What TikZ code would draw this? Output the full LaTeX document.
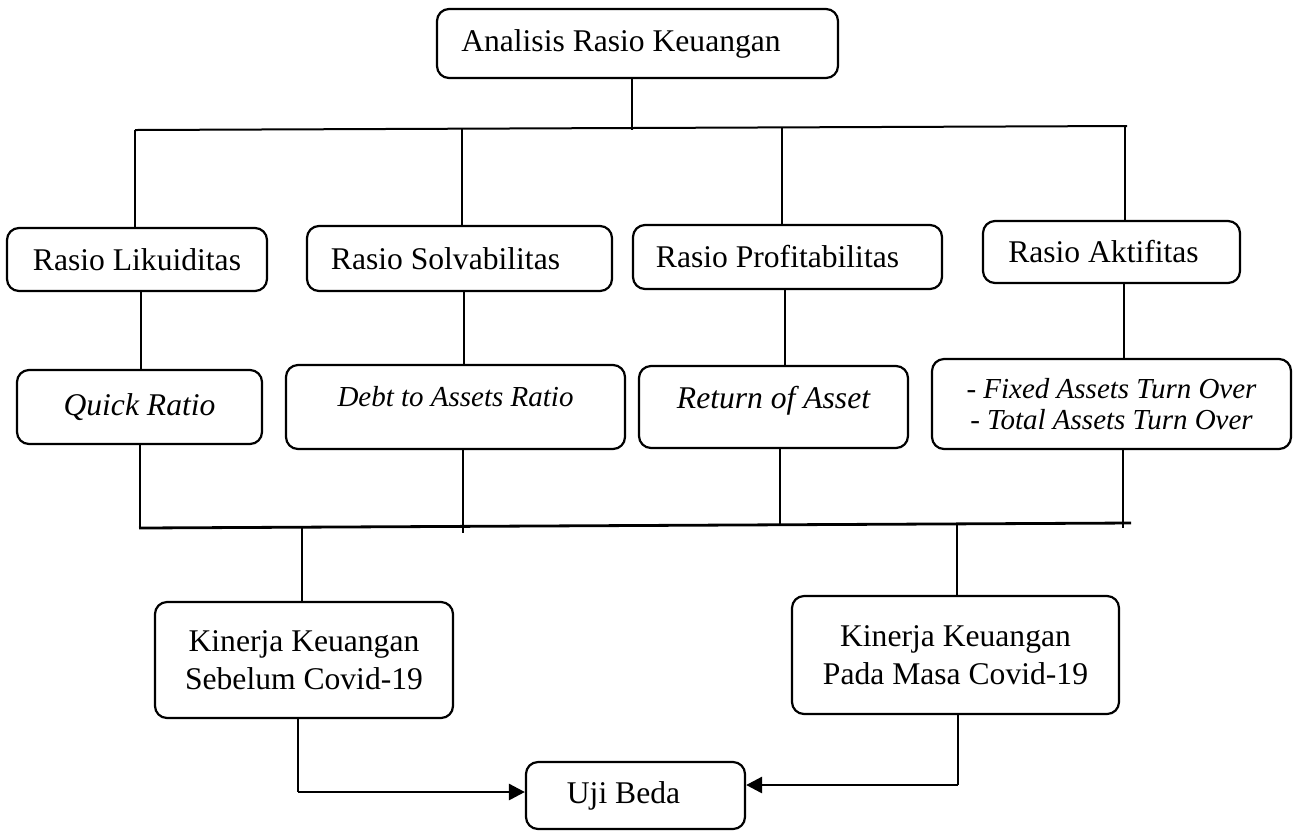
\documentclass[tikz,border=0pt]{standalone}
\usepackage{fontspec}
\setmainfont{Liberation Serif}
\usetikzlibrary{arrows.meta,calc}
\begin{document}
\begin{tikzpicture}[x=0.5pt,y=-0.5pt,
  box/.style={draw, line width=1.1pt, rounded corners=6pt, inner sep=0pt, align=center,
    font=\fontsize{15.8pt}{19pt}\selectfont},
  sbox/.style={box, font=\fontsize{14.5pt}{15.5pt}\selectfont\itshape},
  conn/.style={line width=0.75pt},
  topbus/.style={line width=1pt},
  bus/.style={line width=1.4pt},
  arr/.style={line width=1.4pt, -{Triangle[length=8pt,width=8pt]}}]
\useasboundingbox (0,0) rectangle (1293,832);

% boxes
\node[box, minimum width=200.5pt, minimum height=34.5pt] (top) at (637.5,43.5) {\hbox{Analisis Rasio Keuangan\kern16.5pt}};
\node[box, minimum width=130pt, minimum height=31.5pt] (lik) at (137,259.5) {Rasio Likuiditas};
\node[box, minimum width=152.5pt, minimum height=32.5pt] (solv) at (459.5,258.5) {\hbox{Rasio Solvabilitas\kern14pt}};
\node[box, minimum width=154.5pt, minimum height=32pt] (prof) at (787.5,257) {\hbox{Rasio Profitabilitas\kern10pt}};
\node[box, minimum width=128.5pt, minimum height=31pt] (akt) at (1111.5,252) {\hbox{Rasio Aktifitas\kern8pt}};

\node[box, minimum width=122.5pt, minimum height=37pt] (quick) at (139.5,407) {\itshape Quick Ratio};
\node[sbox, minimum width=169.5pt, minimum height=42pt, text depth=11pt] (debt) at (455.5,407) {Debt to Assets Ratio};
\node[box, minimum width=134.5pt, minimum height=41pt, text depth=10pt] (ret) at (773.5,407) {\itshape Return of Asset};
\node[sbox, minimum width=179.5pt, minimum height=45pt] (fixed) at (1111.5,404) {- Fixed Assets Turn Over\\- Total Assets Turn Over};

\node[box, minimum width=149pt, minimum height=58pt] (kin1) at (304,660) {Kinerja Keuangan\\Sebelum Covid-19};
\node[box, minimum width=163.5pt, minimum height=59pt] (kin2) at (955.5,655) {Kinerja Keuangan\\Pada Masa Covid-19};
\node[box, minimum width=109.5pt, minimum height=33.5pt] (uji) at (635.5,795.5) {\hbox{Uji Beda\kern12pt}};

% top bus
\coordinate (t0) at (632,129.5);
\draw[conn] (top.south -| t0) -- (t0);
\coordinate (bL) at (135,130);
\coordinate (bR) at (1127,126);
\draw[topbus] (bL) -- (bR);
\coordinate (u1) at (135,130);
\coordinate (u2) at (462,128.7);
\coordinate (u3) at (782,127.4);
\coordinate (u4) at (1125,126);
\draw[conn] (u1) -- (lik.north -| u1);
\draw[conn] (u2) -- (solv.north -| u2);
\draw[conn] (u3) -- (prof.north -| u3);
\draw[conn] (u4) -- (akt.north -| u4);

% row 1 to row 2
\coordinate (m1) at (141,0);
\coordinate (m2) at (464,0);
\coordinate (m3) at (785,0);
\coordinate (m4) at (1124,0);
\draw[conn] (lik.south -| m1) -- (quick.north -| m1);
\draw[conn] (solv.south -| m2) -- (debt.north -| m2);
\draw[conn] (prof.south -| m3) -- (ret.north -| m3);
\draw[conn] (akt.south -| m4) -- (fixed.north -| m4);

% bottom bus
\coordinate (cL) at (139,528);
\coordinate (cR) at (1131,523);
\draw[bus] (cL) -- (cR);
\coordinate (d1) at (140,528);
\coordinate (d2) at (463,533);
\coordinate (d3) at (780,525);
\coordinate (d4) at (1123,528);
\draw[conn] (quick.south -| d1) -- (d1);
\draw[conn] (debt.south -| d2) -- (d2);
\draw[conn] (ret.south -| d3) -- (d3);
\draw[conn] (fixed.south -| d4) -- (d4);

\coordinate (k1) at (302,527);
\coordinate (k2) at (957,524);
\draw[conn] (k1) -- (kin1.north -| k1);
\draw[conn] (k2) -- (kin2.north -| k2);

% arrows to Uji Beda
\coordinate (a1) at (298,792);
\coordinate (a2) at (958,785);
\draw[conn] (kin1.south -| a1) -- (a1);
\draw[arr] (a1) -- (a1 -| uji.west);
\draw[conn] (kin2.south -| a2) -- (a2);
\draw[arr] (a2) -- (a2 -| uji.east);
\end{tikzpicture}
\end{document}
